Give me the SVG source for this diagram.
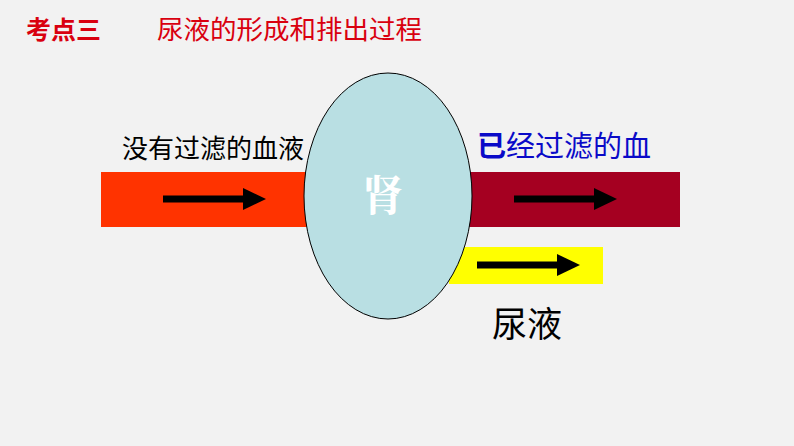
<svg xmlns="http://www.w3.org/2000/svg" width="794" height="446" viewBox="0 0 794 446">
<defs>
<style>
.cjk{font-family:"Liberation Sans","Noto Sans CJK SC",sans-serif;}
.arrow{fill:none;stroke:#000;stroke-width:7;}
.head{fill:#000;}
</style>
</defs>
<rect width="794" height="446" fill="#F2F2F2"/>
<g id="title">
<text class="cjk" x="26" y="39" font-size="25" fill="#D9000F" font-weight="bold">考点三</text>
<text class="cjk" x="157" y="39" font-size="26.5" fill="#D9000F">尿液的形成和排出过程</text>
</g>
<g id="blood-in">
<rect x="101" y="172" width="215" height="55" fill="#FF3300"/>
<text class="cjk" x="122" y="158" font-size="26" fill="#000">没有过滤的血液</text>
</g>
<g id="blood-out">
<rect x="460" y="172" width="220" height="55" fill="#A50021"/>
<text class="cjk" x="477" y="157" font-size="29" fill="#0A0AC8"><tspan font-weight="bold">已</tspan>经过滤的血</text>
</g>
<g id="urine">
<rect x="449" y="247" width="154" height="37" fill="#FFFF00"/>
<text class="cjk" x="492" y="337" font-size="35" fill="#000">尿液</text>
</g>
<g id="kidney">
<ellipse cx="388" cy="196" rx="84" ry="123" fill="#B9DFE3" stroke="#000" stroke-width="1"/>
<text x="383" y="211" font-size="42" fill="#FFFFFF" text-anchor="middle" font-weight="bold" style="font-family:'Noto Serif CJK SC','Noto Sans CJK SC',serif">肾</text>
</g>
<g id="connectors">
<line class="arrow" x1="163" y1="199" x2="245" y2="199"/>
<polygon class="head" points="243,188 266,199 243,210"/>
<line class="arrow" x1="514" y1="199" x2="596" y2="199"/>
<polygon class="head" points="594,188 617,199 594,210"/>
<line class="arrow" x1="477" y1="265" x2="559" y2="265"/>
<polygon class="head" points="557,254 580,265 557,276"/>
</g>
</svg>
